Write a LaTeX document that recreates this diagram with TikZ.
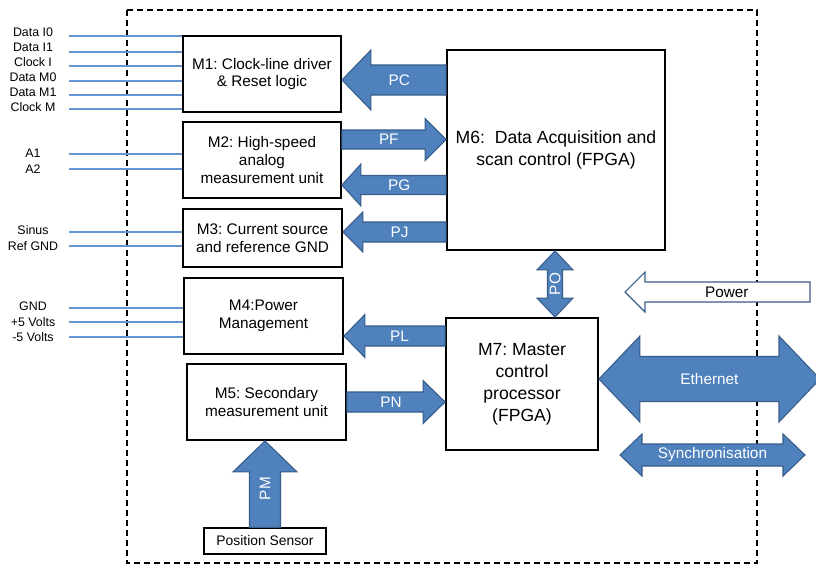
\documentclass[tikz,border=0pt]{standalone}
\usepackage{fontspec}
\setmainfont{Liberation Sans}
\usetikzlibrary{calc}
\frenchspacing

\definecolor{fatblue}{RGB}{79,129,189}
\definecolor{fatedge}{RGB}{56,93,138}
\definecolor{sigblue}{RGB}{100,149,206}

% #1 path opts, #2 label opts, #3 tail, #4 tip, #5 half shaft, #6 half head, #7 head length, #8 label
\newcommand{\fatarrow}[8]{%
        \coordinate (fa-t) at (#3);
        \coordinate (fa-p) at (#4);
        \coordinate (fa-b) at ($(fa-p)!#7*0.75pt!(fa-t)$);
        \draw[fat,#1] ($(fa-t)!#5*0.75pt!90:(fa-p)$) -- ($(fa-b)!#5*0.75pt!90:(fa-p)$)
                -- ($(fa-b)!#6*0.75pt!90:(fa-p)$) -- (fa-p) -- ($(fa-b)!#6*0.75pt!-90:(fa-p)$)
                -- ($(fa-b)!#5*0.75pt!-90:(fa-p)$) -- ($(fa-t)!#5*0.75pt!-90:(fa-p)$) -- cycle;
        \node[fatlbl,#2] at ($(fa-t)!0.45!(fa-p)$) {#8};}

\newcommand{\dblarrow}[8]{%
        \coordinate (da-a) at (#3);
        \coordinate (da-b) at (#4);
        \coordinate (da-ha) at ($(da-a)!#7*0.75pt!(da-b)$);
        \coordinate (da-hb) at ($(da-b)!#7*0.75pt!(da-a)$);
        \draw[fat,#1] (da-a) -- ($(da-ha)!#6*0.75pt!90:(da-b)$) -- ($(da-ha)!#5*0.75pt!90:(da-b)$)
                -- ($(da-hb)!#5*0.75pt!-90:(da-a)$) -- ($(da-hb)!#6*0.75pt!-90:(da-a)$) -- (da-b)
                -- ($(da-hb)!#6*0.75pt!90:(da-a)$) -- ($(da-hb)!#5*0.75pt!90:(da-a)$)
                -- ($(da-ha)!#5*0.75pt!-90:(da-b)$) -- ($(da-ha)!#6*0.75pt!-90:(da-b)$) -- cycle;
        \node[fatlbl,#2] at ($(da-a)!0.5!(da-b)$) {#8};}

\begin{document}
\begin{tikzpicture}[x=0.75pt,y=-0.75pt]
\tikzset{
        modbox/.style={draw, fill=white, line width=1.4pt, align=center, minimum width=118.5pt,
                minimum height=57pt, font=\fontsize{11.5}{13.2}\selectfont},
        bigbox/.style={draw, fill=white, line width=1.4pt, align=center, font=\fontsize{13.2}{16.5}\selectfont},
        sensbox/.style={draw, fill=white, line width=0.9pt, minimum width=91.5pt, minimum height=19.5pt,
                font=\fontsize{10.4}{12}\selectfont},
        sigtxt/.style={font=\fontsize{9.3}{11}\selectfont},
        sig/.style={sigblue, line width=0.9pt},
        fat/.style={fill=fatblue, draw=fatedge, line width=0.8pt},
        fatlbl/.style={text=white, font=\fontsize{11.5}{13}\selectfont}
}
        \fill[white] (0,0) rectangle (816,565);
        \useasboundingbox (0,0) rectangle (816,565);
        \draw[line width=1.1pt, dash pattern=on 4.5pt off 3pt] (127,10) rectangle (757,563);

        \node[modbox] (M1) at (262,74) {M1: Clock-line driver\\ \& Reset logic};
        \node[modbox] (M2) at (262,160) {M2: High-speed\\ analog\\ measurement unit};
        \node[modbox, minimum width=119.25pt, minimum height=43.5pt] (M3) at (262.5,238) {M3: Current source\\ and reference GND};
        \node[modbox, minimum width=119.25pt] (M4) at (263.5,316) {M4:Power\\ Management};
        \node[modbox, minimum width=119.25pt] (M5) at (266.5,402) {M5: Secondary\\ measurement unit};
        \node[bigbox, minimum width=163.5pt, minimum height=150pt] (M6) at (556,150) {M6:~ Data Acquisition and\\ scan control (FPGA)};
        \node[bigbox, minimum width=114pt, minimum height=99pt] (M7) at (522,384) {M7: Master\\ control\\ processor\\ (FPGA)};
        \node[sensbox] (sensor) at (265,541) {Position Sensor};

        \foreach \b/\ly/\y/\t in {M1/32/36/Data I0, M1/47/52/Data I1, M1/62/66/Clock I, M1/77/81/Data M0,
                M1/92/95/Data M1, M1/107/109/Clock M, M2/153/154/A1, M2/169/169/A2, M3/230/232/Sinus,
                M3/246/246/Ref GND, M4/306/308/GND, M4/322/322/+5 Volts, M4/337/337/-5 Volts}{
                \node[sigtxt] (lbl\y) at (33,\ly) {\t};
                \coordinate (in\y) at (69,\y);
                \draw[sig] (in\y) -- (in\y -| \b.west);
        }

        \fatarrow{}{}{M6.west |- 0,80}{M1.east |- 0,80}{15}{30}{29}{PC}
        \fatarrow{}{}{M2.east |- 0,139.5}{M6.west |- 0,139.5}{9.5}{21}{21}{PF}
        \fatarrow{}{}{M6.west |- 0,185}{M2.east |- 0,185}{9.5}{21}{19}{PG}
        \fatarrow{}{}{M6.west |- 0,232}{M3.east |- 0,232}{10}{20}{20}{PJ}
        \fatarrow{}{}{M7.west |- 0,336}{M4.east |- 0,336}{10}{21.5}{21}{PL}
        \fatarrow{}{}{M5.east |- 0,402}{M7.west |- 0,402}{10}{21.5}{22}{PN}
        \fatarrow{}{rotate=90}{sensor.north}{sensor.north |- M5.south}{15.5}{32}{31}{PM}
        \dblarrow{}{rotate=90}{M6.south -| 555,0}{M7.north -| 555,0}{7.5}{18}{19}{PO}

        \coordinate (pwrR) at (810,292);
        \coordinate (pwrL) at (625,292);
        \fatarrow{fill=white}{text=black}{pwrR}{pwrL}{10}{20}{20}{Power}
        \coordinate (ethR) at (820,379);
        \dblarrow{}{}{M7.east |- 0,379}{ethR}{22.5}{43}{41}{Ethernet}
        \coordinate (syncL) at (620,455);
        \coordinate (syncR) at (805,455);
        \dblarrow{}{}{syncL}{syncR}{11}{21}{22}{Synchronisation}
\end{tikzpicture}
\end{document}
